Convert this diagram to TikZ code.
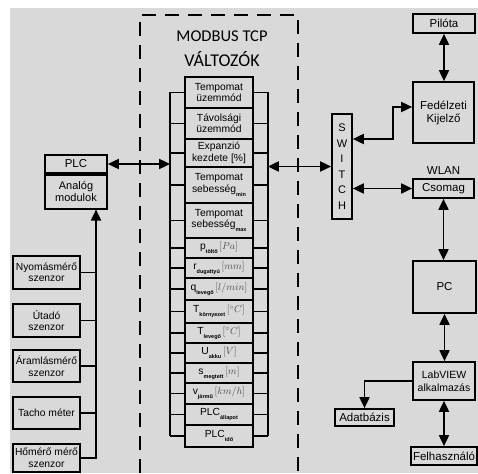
\documentclass[tikz,border=0pt]{standalone}
\usepackage{fontspec}
\setmainfont{Liberation Sans}
\newfontfamily\titlefont{Carlito}
\usetikzlibrary{arrows.meta,positioning}
\newcommand{\lowidx}[1]{\raisebox{-0.7ex}{\fontsize{5.5}{6}\selectfont\bfseries #1}}
\newcommand{\unitb}[1]{\,{\color{black!70}$[#1]$}}
\definecolor{bggray}{HTML}{D9D9D9}
\begin{document}
\begin{tikzpicture}[x=1pt,y=-1pt,
  box/.style={draw,line width=1.7pt,inner sep=1pt,align=center,font=\fontsize{10.3}{11.5}\selectfont},
  bigbox/.style={box,font=\fontsize{11.5}{13}\selectfont},
  sensor/.style={box,minimum width=67pt,minimum height=33pt},
  arr/.style={line width=1.8pt,-{Triangle[length=11pt,width=10pt]}},
  dblarr/.style={line width=1.8pt,{Triangle[length=11pt,width=10pt]}-{Triangle[length=11pt,width=10pt]}}]
\useasboundingbox (0,0) rectangle (478,473);
\fill[bggray] (10,8) rectangle (478,473);
\draw[line width=2.6pt,dash pattern=on 14pt off 9pt] (140,473)--(140,15)--(298,15)--(298,473);
\node[font=\titlefont\fontsize{16.5}{18}\selectfont] (title1) at (222,36) {MODBUS TCP};
\node[font=\titlefont\fontsize{18}{20}\selectfont] (title2) at (222,59) {VÁLTOZÓK};
\foreach \n/\t/\b/\txt in {
  1/77/108/{Tempomat\\üzemmód},
  2/108/139/{Távolsági\\üzemmód},
  3/139/167/{Expanzió\\kezdete [\%]},
  4/167/203/{Tempomat\\sebesség\lowidx{min}},
  5/203/238/{Tempomat\\sebesség\lowidx{max}},
  6/238/258/{p\lowidx{töltő}\unitb{Pa}},
  7/258/278/{r\lowidx{dugattyú}\unitb{mm}},
  8/278/300/{q\lowidx{levegő}\unitb{l/min}},
  9/300/323/{T\lowidx{környezet}\unitb{^\circ C}},
  10/323/343/{T\lowidx{levegő}\unitb{^\circ C}},
  11/343/363/{U\lowidx{akku}\unitb{V}},
  12/363/383/{s\lowidx{megtett}\unitb{m}},
  13/383/404/{v\lowidx{jármű}\unitb{km/h}},
  14/404/425/{PLC\lowidx{állapot}},
  15/425/447/{PLC\lowidx{idő}}}
  \node[box,minimum width=68pt,minimum height={(\b-\t)*1pt}] (var\n) at (219,{(\t+\b)/2}) {\txt};
\coordinate (railL) at ([xshift=-14pt]var1.west);
\coordinate (railR) at ([xshift=14pt]var1.east);
\draw[line width=1.7pt] (railL) -- ([xshift=-14pt]var15.west);
\draw[line width=1.7pt] (railR) -- ([xshift=14pt]var15.east);
\foreach \n in {1,...,15}
  \draw[line width=1.7pt] (var\n.west) -- ++(-14,0) (var\n.east) -- ++(14,0);
\node[bigbox,minimum width=62pt,minimum height=18pt] (plc) at (76,164) {PLC};
\node[box,font=\fontsize{11}{12.5}\selectfont,minimum width=62pt,minimum height=34pt,anchor=north] (analog) at (plc.south) {Analóg\\modulok};
\draw[dblarr] (plc.east) -- (plc.east -| railL);
\node[box,font=\fontsize{11}{15.5}\selectfont,minimum width=20pt,minimum height=105pt] (sw) at (342,166.5) {S\\W\\I\\T\\C\\H};
\draw[dblarr] (sw.west -| railR) -- (sw.west);
\node[bigbox,minimum width=62pt,minimum height=19pt] (pilota) at (444,23.5) {Pilóta};
\node[bigbox,minimum width=61pt,minimum height=61pt] (fedelzeti) at (443.5,112.5) {Fedélzeti\\Kijelző};
\node[bigbox,minimum width=61pt,minimum height=19pt] (csomag) at (443.5,188.5) {Csomag};
\node[font=\fontsize{11.5}{13}\selectfont,above=0pt of csomag] (wlan) {WLAN};
\node[bigbox,minimum width=63pt,minimum height=52pt] (pc) at (444.5,287) {PC};
\node[box,font=\fontsize{10.5}{13}\selectfont,minimum width=62pt,minimum height=38pt] (labview) at (444,381) {LabVIEW\\alkalmazás};
\node[bigbox,minimum width=59pt,minimum height=17pt] (adatbazis) at (364.5,417.5) {Adatbázis};
\node[bigbox,minimum width=66pt,minimum height=18pt] (felhasznalo) at (444,456) {Felhasználó};
\draw[dblarr] (pilota.south) -- (pilota.south |- fedelzeti.north);
\draw[dblarr] ([yshift=27.5pt]sw.east) -- ++(40,0) |- ([yshift=5.5pt]fedelzeti.west);
\draw[dblarr] (sw.east |- csomag.west) -- (csomag.west);
\draw[dblarr] (csomag.south) -- (csomag.south |- pc.north);
\draw[dblarr] (pc.south) -- (pc.south |- labview.north);
\draw[arr] (labview.west) -| (adatbazis.north);
\draw[dblarr] (labview.south) -- (labview.south |- felhasznalo.north);
\node[sensor] (nyomas) at (46.5,272.5) {Nyomásmérő\\szenzor};
\node[sensor] (utado) at (46.5,320.5) {Útadó\\szenzor};
\node[sensor,minimum height=32pt] (aramlas) at (46.5,366) {Áramlásmérő\\szenzor};
\node[sensor,minimum height=32pt] (tacho) at (46.5,413) {Tacho méter};
\node[sensor,minimum height=28pt] (homero) at (46.5,458) {Hőmérő mérő\\szenzor};
\coordinate (bus) at ([xshift=20pt]analog.south);
\draw[arr] (homero.east) -| (bus);
\foreach \s in {nyomas,utado,aramlas,tacho}
  \draw[line width=1.7pt] (\s.east) -- (\s.east -| bus);
\end{tikzpicture}
\end{document}
